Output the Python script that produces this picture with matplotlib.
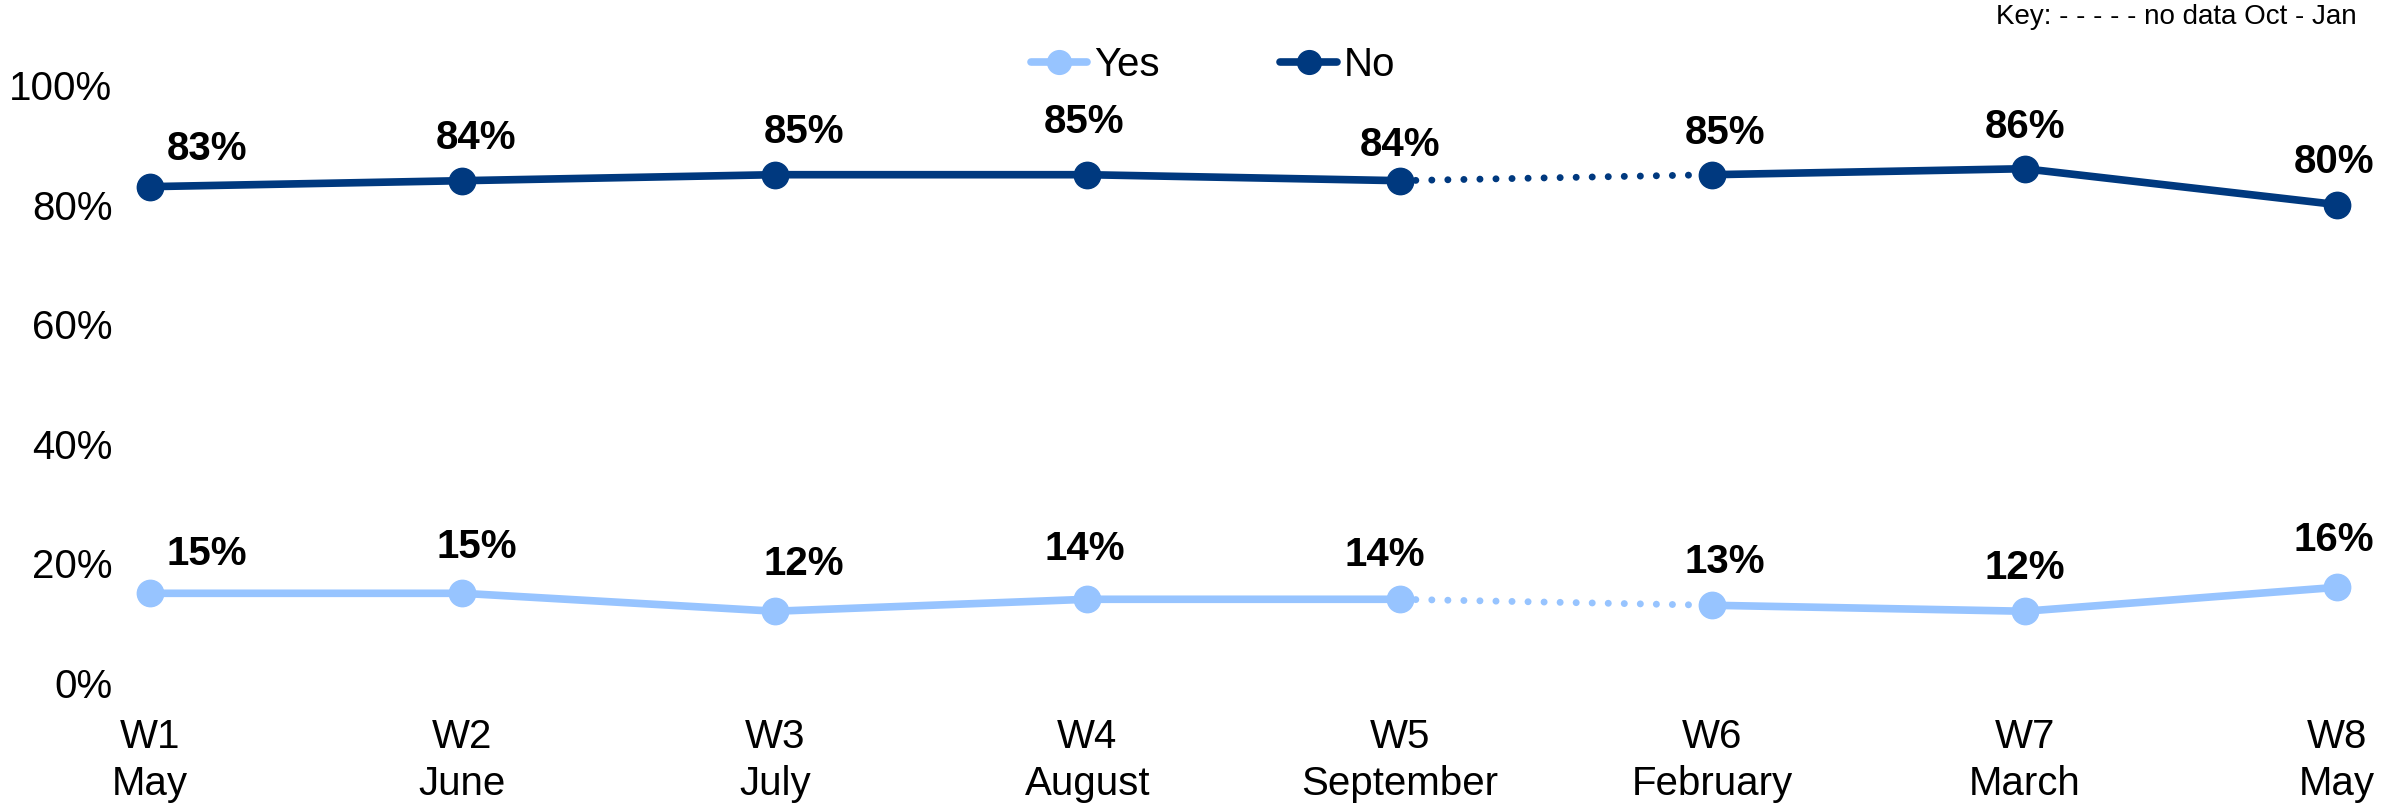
import matplotlib
matplotlib.use("Agg")
import matplotlib.pyplot as plt

plt.rcParams['font.family'] = ['Liberation Sans', 'DejaVu Sans']

waves = ['W1\nMay', 'W2\nJune', 'W3\nJuly', 'W4\nAugust', 'W5\nSeptember',
         'W6\nFebruary', 'W7\nMarch', 'W8\nMay']
yes_vals = [15, 15, 12, 14, 14, 13, 12, 16]
no_vals = [83, 84, 85, 85, 84, 85, 86, 80]
gap = 4  # no data between W5 and W6 (Oct - Jan)

# label offsets (points) - set by hand like in the original
no_dx = [41, 10, 21, -2, 0, 9, 0, -2]
no_dy = [27, 31, 31, 38, 26, 30, 30, 31]
yes_dx = [41, 10, 21, -2, -11, 9, 0, -2]
yes_dy = [28, 33, 34, 36, 32, 31, 31, 34]

c_yes = '#97C4FF'
c_no = '#00397F'

fig = plt.figure(figsize=(23.81, 8.08), dpi=100)
ax = fig.add_axes([150/2381, 125/808, (2337-150)/2381, 598/808])

x = list(range(len(waves)))

for vals, col, name in [(yes_vals, c_yes, 'Yes'), (no_vals, c_no, 'No')]:
    ax.plot(x[:gap+1], vals[:gap+1], color=col, lw=5.5, marker='o', ms=19,
            clip_on=False, solid_capstyle='round', label=name)
    ax.plot(x[gap+1:], vals[gap+1:], color=col, lw=5.5, marker='o', ms=19,
            clip_on=False, solid_capstyle='round')
    ax.plot(x[gap:gap+2], vals[gap:gap+2], color=col, lw=5,
            linestyle=(0, (0.01, 2.3)), dash_capstyle='round', clip_on=False)

for i in x:
    ax.annotate(f'{no_vals[i]}%', (i, no_vals[i]), xytext=(no_dx[i], no_dy[i]),
                textcoords='offset points', ha='center', va='center',
                fontsize=29, fontweight='bold')
    ax.annotate(f'{yes_vals[i]}%', (i, yes_vals[i]), xytext=(yes_dx[i], yes_dy[i]),
                textcoords='offset points', ha='center', va='center',
                fontsize=29, fontweight='bold')

ax.set_xlim(0, len(waves) - 1)
ax.set_ylim(0, 100)
ax.set_yticks([0, 20, 40, 60, 80, 100])
ax.set_yticklabels(['0%', '20%', '40%', '60%', '80%', '100%'])
ax.set_xticks(x)
ax.set_xticklabels(waves, linespacing=1.3)
ax.tick_params(axis='y', length=0, pad=27, labelsize=29)
ax.tick_params(axis='x', length=0, pad=25, labelsize=29)
for s in ax.spines.values():
    s.set_visible(False)

fig.legend(loc='center', bbox_to_anchor=(1213/2381, 1-65/808), ncol=2,
           frameon=False, fontsize=29, handlelength=1.4, handletextpad=0.17,
           columnspacing=3.0, markerscale=0.9)

fig.text(2357/2381, 1-17/808, 'Key: - - - - - no data Oct - Jan',
         ha='right', va='center', fontsize=20)

fig.savefig('out.png', dpi=100)
